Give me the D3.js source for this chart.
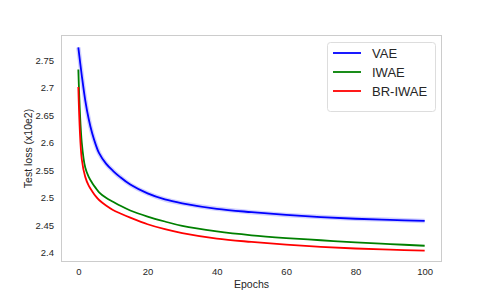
<!DOCTYPE html>
<html>
<head>
<meta charset="utf-8">
<script src="https://cdn.jsdelivr.net/npm/d3@7"></script>
<style>
body { margin: 0; background: #fff; }
svg { font-family: "Liberation Sans", Arial, sans-serif; }
</style>
</head>
<body>
<script>
var epochs = [0, 1, 2, 3, 4, 5, 6, 8, 10, 12, 15, 20, 25, 30, 40, 50, 60, 70, 80, 90, 100];
var vae    = [2.773, 2.722, 2.677, 2.643, 2.617, 2.597, 2.581, 2.562, 2.549, 2.538, 2.524, 2.508, 2.497, 2.490, 2.480, 2.474, 2.469, 2.465, 2.462, 2.460, 2.458];
var iwae   = [2.733, 2.600, 2.555, 2.538, 2.527, 2.518, 2.510, 2.500, 2.493, 2.486, 2.477, 2.466, 2.457, 2.449, 2.439, 2.432, 2.427, 2.423, 2.419, 2.416, 2.413];
var briwae = [2.701, 2.570, 2.538, 2.522, 2.512, 2.503, 2.496, 2.486, 2.478, 2.472, 2.464, 2.452, 2.443, 2.436, 2.426, 2.420, 2.415, 2.411, 2.408, 2.406, 2.404];
var names  = ["VAE", "IWAE", "BR-IWAE"];
var colors = ["#0000ff", "#008000", "#ff0000"];
var xTicks = [0, 20, 40, 60, 80, 100];
var yTicks = [2.4, 2.45, 2.5, 2.55, 2.6, 2.65, 2.7, 2.75];

var width = 491, height = 294;
var margin = {left: 61, right: 49, top: 35, bottom: 32};

var svg = d3.select("body").append("svg")
	.attr("width", width)
	.attr("height", height);

var x = d3.scaleLinear().domain([-5, 105]).range([margin.left, width - margin.right]);
var y = d3.scaleLinear().domain([2.3835, 2.7955]).range([height - margin.bottom, margin.top]);

// frame
svg.append("rect")
	.attr("x", margin.left + 0.5)
	.attr("y", margin.top + 0.5)
	.attr("width", width - margin.right - margin.left - 1)
	.attr("height", height - margin.bottom - margin.top - 1)
	.attr("fill", "none")
	.attr("stroke", "#cccccc")
	.attr("stroke-width", 1);

var xAxis = svg.append("g")
	.attr("transform", "translate(0," + (height - margin.bottom) + ")")
	.call(d3.axisBottom(x).tickValues(xTicks).tickSize(0).tickPadding(6).tickFormat(d3.format("d")));
var yAxis = svg.append("g")
	.attr("transform", "translate(" + margin.left + ",0)")
	.call(d3.axisLeft(y).tickValues(yTicks).tickSize(0).tickPadding(7).tickFormat(function(d) { return d3.format("")(+d.toFixed(2)); }));

[xAxis, yAxis].forEach(function(a) {
	a.select(".domain").remove();
	a.selectAll("text").attr("fill", "#262626").style("font-size", "9.5px").style("font-family", "Liberation Sans, Arial, sans-serif");
});

svg.append("text")
	.attr("x", (margin.left + width - margin.right) / 2)
	.attr("y", 288)
	.attr("text-anchor", "middle")
	.attr("fill", "#262626")
	.style("font-size", "10.5px")
	.text("Epochs");

svg.append("text")
	.attr("transform", "translate(32," + ((margin.top + height - margin.bottom) / 2) + ")rotate(-90)")
	.attr("text-anchor", "middle")
	.attr("fill", "#262626")
	.style("font-size", "10.5px")
	.text("Test loss (x10e2)");

var line = d3.line()
	.curve(d3.curveCatmullRom.alpha(0.5))
	.x(function(d) { return x(d[0]); })
	.y(function(d) { return y(d[1]); });

var series = [vae, iwae, briwae];

// faint shade around the VAE curve
svg.append("path")
	.attr("d", line(epochs.map(function(e, i) { return [e, vae[i]]; })))
	.attr("fill", "none")
	.attr("stroke", "#0000ff")
	.attr("stroke-opacity", 0.18)
	.attr("stroke-width", 4.5);

series.forEach(function(s, k) {
	svg.append("path")
		.attr("d", line(epochs.map(function(e, i) { return [e, s[i]]; })))
		.attr("fill", "none")
		.attr("stroke", colors[k])
		.attr("stroke-width", 1.8);
});

// legend
var lg = svg.append("g").attr("transform", "translate(327,42)");
lg.append("rect")
	.attr("x", 0.5).attr("y", 0.5)
	.attr("width", 108).attr("height", 69)
	.attr("rx", 3)
	.attr("fill", "#fff")
	.attr("stroke", "#dddddd");
names.forEach(function(n, i) {
	var ly = 11 + i * 19;
	lg.append("line")
		.attr("x1", 6).attr("x2", 34)
		.attr("y1", ly).attr("y2", ly)
		.attr("stroke", colors[i])
		.attr("stroke-width", 1.8);
	lg.append("text")
		.attr("x", 45).attr("y", ly)
		.attr("dy", "0.35em")
		.attr("fill", "#262626")
		.style("font-size", "13px")
		.text(n);
});
</script>
</body>
</html>
